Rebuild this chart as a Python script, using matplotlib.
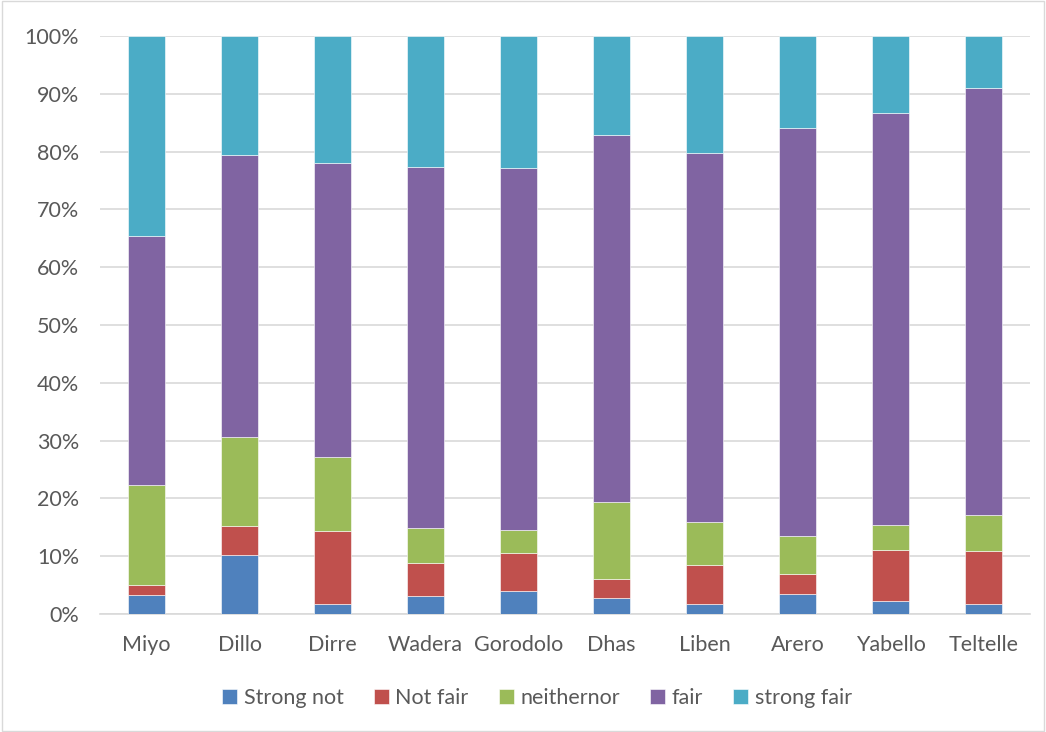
import numpy as np
import matplotlib
matplotlib.use("Agg")
import matplotlib.pyplot as plt
from matplotlib.patches import Rectangle
from matplotlib.ticker import PercentFormatter

plt.rcParams['font.family'] = ['Lato', 'DejaVu Sans']

districts = ["Miyo", "Dillo", "Dirre", "Wadera", "Gorodolo",
             "Dhas", "Liben", "Arero", "Yabello", "Teltelle"]

# cumulative tops (percent)
strong_not_top = [3.35, 10.2, 1.7, 3.2, 3.9, 2.8, 1.7, 3.5, 2.2, 1.7]
not_fair_top = [5.0, 15.2, 14.4, 8.8, 10.5, 6.0, 8.4, 6.9, 11.0, 10.9]
neither_top = [22.4, 30.7, 27.1, 14.8, 14.6, 19.4, 15.9, 13.5, 15.4, 17.2]
fair_top = [65.4, 79.4, 78.0, 77.3, 77.2, 82.9, 79.8, 84.1, 86.7, 91.0]

labels = ["Strong not", "Not fair", "neithernor", "fair", "strong fair"]
colors = ["#4F81BD", "#C0504D", "#9BBB59", "#8064A2", "#4BACC6"]

tops = np.array([strong_not_top, not_fair_top, neither_top, fair_top,
                 [100.0] * len(districts)])
bottoms = np.vstack([np.zeros(len(districts)), tops[:-1]])
heights = tops - bottoms

fig = plt.figure(figsize=(10.46, 7.32), dpi=100)
ax = fig.add_axes([100 / 1046, 1 - 614 / 732, 930 / 1046, 578 / 732])

x = np.arange(len(districts))
for i in range(len(labels)):
    ax.bar(x, heights[i], bottom=bottoms[i], width=0.4, color=colors[i],
           label=labels[i], edgecolor="white", linewidth=0.4, zorder=3)

ax.set_xlim(-0.5, len(districts) - 0.5)
ax.set_ylim(0, 100)
ax.set_yticks(np.arange(0, 101, 10))
ax.yaxis.set_major_formatter(PercentFormatter(decimals=0))
ax.set_xticks(x)
ax.set_xticklabels(districts)
ax.grid(axis="y", color="#d9d9d9", linewidth=1.2, zorder=0)
for s in ["top", "right", "left"]:
    ax.spines[s].set_visible(False)
ax.spines["bottom"].set_color("#d9d9d9")
ax.spines["bottom"].set_linewidth(1.2)
ax.tick_params(length=0, labelsize=15.5, colors="#595959")
ax.tick_params(axis="x", pad=15)
ax.tick_params(axis="y", pad=15)

leg = ax.legend(loc="center", bbox_to_anchor=(0.47, -0.145), ncol=5,
                frameon=False, fontsize=15.5, handlelength=0.7,
                handleheight=0.7, handletextpad=0.3, columnspacing=1.4)
for t in leg.get_texts():
    t.set_color("#595959")

fig.patches.append(Rectangle((0.002, 0.002), 0.996, 0.996, transform=fig.transFigure,
                             fill=False, edgecolor="#d9d9d9", linewidth=1))

fig.savefig("out.png", dpi=100)
